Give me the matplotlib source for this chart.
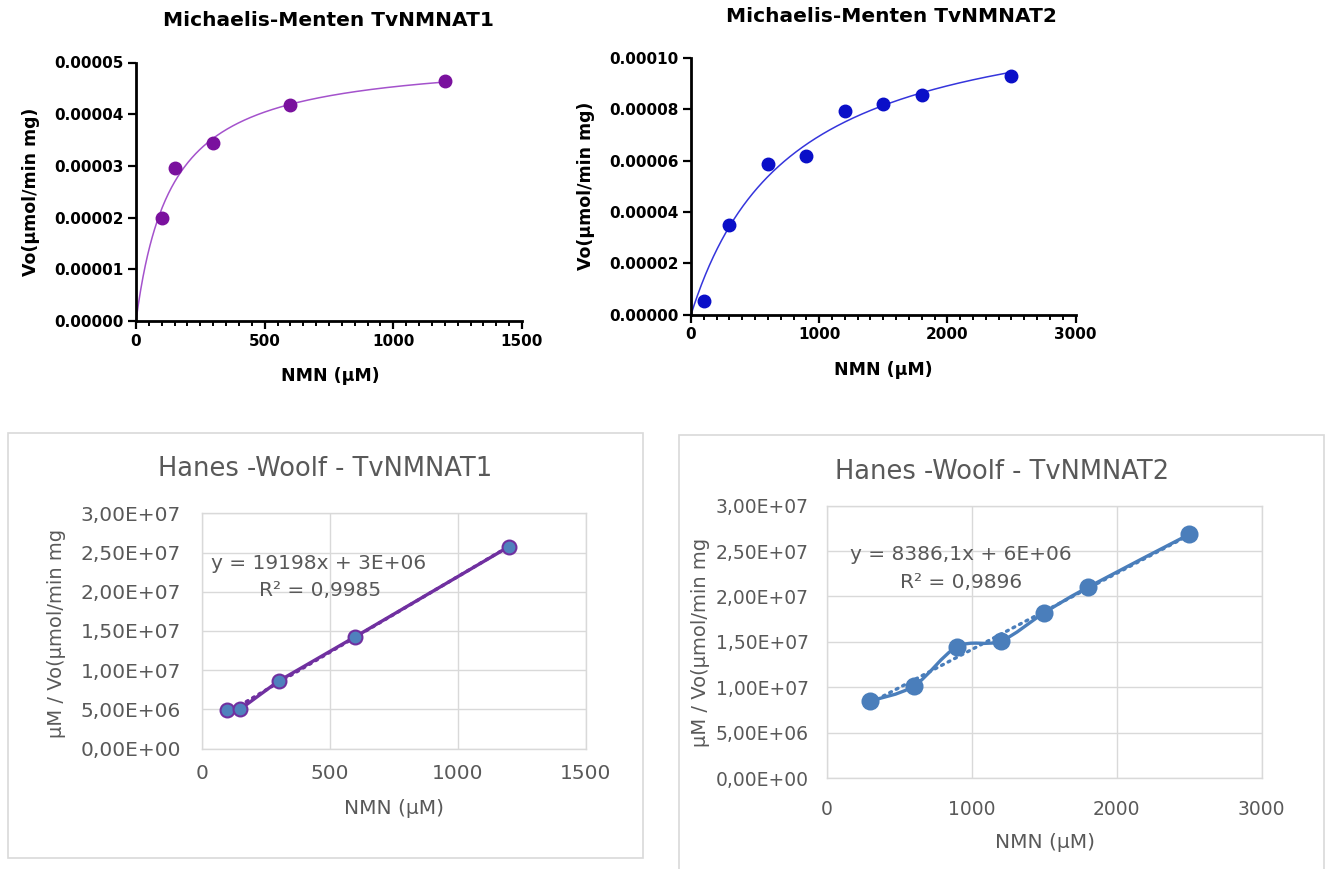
import numpy as np
import matplotlib
matplotlib.use("Agg")
import matplotlib.pyplot as plt
from matplotlib.ticker import MultipleLocator, FuncFormatter, FormatStrFormatter
from matplotlib.patches import Rectangle, PathPatch
from matplotlib.path import Path

# ---------------- data ----------------
mm1_nmn = [100, 150, 300, 600, 1200]
mm1_vo = [1.99e-5, 2.95e-5, 3.44e-5, 4.18e-5, 4.64e-5]

mm2_nmn = [100, 300, 600, 900, 1200, 1500, 1800, 2500]
mm2_vo = [0.55e-5, 3.49e-5, 5.88e-5, 6.18e-5, 7.93e-5, 8.21e-5, 8.55e-5, 9.29e-5]

hw1_nmn = [100, 150, 300, 600, 1200]
hw1_ratio = [4.85e6, 5.0e6, 8.6e6, 1.427e7, 2.576e7]

hw2_nmn = [300, 600, 900, 1200, 1500, 1800, 2500]
hw2_ratio = [8.48e6, 1.013e7, 1.446e7, 1.509e7, 1.82e7, 2.10e7, 2.684e7]

mm_titles = ["Michaelis-Menten TvNMNAT1", "Michaelis-Menten TvNMNAT2"]
hw_titles = ["Hanes -Woolf - TvNMNAT1", "Hanes -Woolf - TvNMNAT2"]
hw_eq = ["y = 19198x + 3E+06", "y = 8386,1x + 6E+06"]
hw_r2 = ["R² = 0,9985", "R² = 0,9896"]

W, H = 1327, 869
fig = plt.figure(figsize=(W / 100, H / 100), dpi=100)
fig.patch.set_facecolor("white")


def fx(x):
    return x / W


def fy(y):
    return 1 - y / H


def add_ax(x0, x1, ytop, ybot):
    return fig.add_axes([fx(x0), fy(ybot), (x1 - x0) / W, (ybot - ytop) / H])


def mm_fit(S, V):
    S = np.asarray(S, float)
    V = np.asarray(V, float)
    slope, icpt = np.polyfit(S, S / V, 1)
    vmax, km = 1 / slope, icpt / slope
    for _ in range(200):
        pred = vmax * S / (km + S)
        r = V - pred
        J = np.column_stack([S / (km + S), -vmax * S / (km + S) ** 2])
        d = np.linalg.lstsq(J, r, rcond=None)[0]
        vmax += d[0]
        km += d[1]
    return vmax, km


# ---------------- Michaelis-Menten panels ----------------
mm_specs = [
    dict(S=mm1_nmn, V=mm1_vo, box=(136, 522, 62.5, 321), xmax=1500, xmaj=500, xmin=50,
         ymax=5e-5, ystep=1e-5, pc="#7a119e", lc="#a452cc",
         title_xy=(328, 21), ylab_xy=(31, 192), xlab_xy=(330, 376)),
    dict(S=mm2_nmn, V=mm2_vo, box=(691, 1075.5, 58, 314.7), xmax=3000, xmaj=1000, xmin=100,
         ymax=1e-4, ystep=2e-5, pc="#0a0fc8", lc="#3535dc",
         title_xy=(891, 16), ylab_xy=(586, 186), xlab_xy=(883, 370)),
]

for spec, title in zip(mm_specs, mm_titles):
    x0, x1, yt, yb = spec["box"]
    ax = add_ax(x0, x1, yt, yb)
    vmax, km = mm_fit(spec["S"], spec["V"])
    s = np.linspace(0, max(spec["S"]), 400)
    ax.plot(s, vmax * s / (km + s), color=spec["lc"], lw=1.1, zorder=2, clip_on=False)
    ax.plot(spec["S"], spec["V"], "o", color=spec["pc"], ms=9, zorder=3, clip_on=False)
    ax.set_xlim(0, spec["xmax"])
    ax.set_ylim(0, spec["ymax"])
    ax.xaxis.set_major_locator(MultipleLocator(spec["xmaj"]))
    ax.xaxis.set_minor_locator(MultipleLocator(spec["xmin"]))
    ax.yaxis.set_major_locator(MultipleLocator(spec["ystep"]))
    ax.yaxis.set_major_formatter(FormatStrFormatter("%.5f"))
    ax.xaxis.set_major_formatter(FormatStrFormatter("%d"))
    for side in ("top", "right"):
        ax.spines[side].set_visible(False)
    for side in ("left", "bottom"):
        ax.spines[side].set_linewidth(2.0)
    ax.tick_params(which="major", direction="out", length=6, width=1.6, pad=3,
                   labelsize=11)
    ax.tick_params(which="minor", direction="out", length=3.5, width=1.4)
    for lab in ax.get_xticklabels() + ax.get_yticklabels():
        lab.set_fontweight("bold")
    fig.text(fx(spec["title_xy"][0]), fy(spec["title_xy"][1]), title, ha="center", va="center",
             fontsize=14.5, fontweight="bold")
    fig.text(fx(spec["ylab_xy"][0]), fy(spec["ylab_xy"][1]), "Vo(µmol/min mg)", rotation=90,
             ha="center", va="center", fontsize=12.5, fontweight="bold")
    fig.text(fx(spec["xlab_xy"][0]), fy(spec["xlab_xy"][1]), "NMN (µM)", ha="center", va="center",
             fontsize=12.5, fontweight="bold")

# ---------------- Hanes-Woolf panels ----------------
gray_txt = "#595959"
grid_c = "#d9d9d9"

fig.add_artist(Rectangle((fx(8), fy(858)), (643 - 8) / W, (858 - 432.5) / H,
                         transform=fig.transFigure, fill=False, ec=grid_c, lw=1.2))
fig.add_artist(Rectangle((fx(679), fy(880)), (1324 - 679) / W, (880 - 435) / H,
                         transform=fig.transFigure, fill=False, ec=grid_c, lw=1.2))


def sci_comma(v, pos):
    return f"{v:.2E}".replace(".", ",")


def smooth_path(xs, ys):
    P = np.column_stack([xs, ys]).astype(float)
    n = len(P)
    verts = [P[0]]
    codes = [Path.MOVETO]
    for i in range(n - 1):
        p_prev = P[i - 1] if i > 0 else P[i]
        p_next2 = P[i + 2] if i + 2 < n else P[i + 1]
        c1 = P[i] + (P[i + 1] - p_prev) / 6
        c2 = P[i + 1] - (p_next2 - P[i]) / 6
        verts += [c1, c2, P[i + 1]]
        codes += [Path.CURVE4] * 3
    return Path(verts, codes)


hw_specs = [
    dict(S=hw1_nmn, R=hw1_ratio, box=(201.7, 586, 513.3, 748.5), xmax=1500, xstep=500,
         lc="#7030a0", mfc="#4f81bd", mec="#7030a0", ms=10, tc="#7030a0", smooth=False,
         tsize=14.5, xpad=11, ypad=15, title_xy=(325, 469), eq_xy=(319, 569), r2_xy=(320, 596.5),
         ylab_xy=(57, 633), xlab_xy=(394, 808)),
    dict(S=hw2_nmn, R=hw2_ratio, box=(826.7, 1261.7, 505.7, 778), xmax=3000, xstep=1000,
         lc="#4a7ebb", mfc="#4a7ebb", mec="#4a7ebb", ms=11.5, tc="#4a7ebb", smooth=True,
         tsize=13.5, xpad=16, ypad=13, title_xy=(1002, 472), eq_xy=(961, 560), r2_xy=(961, 587.5),
         ylab_xy=(700, 642), xlab_xy=(1045, 843)),
]

for spec, title, eq, r2 in zip(hw_specs, hw_titles, hw_eq, hw_r2):
    x0, x1, yt, yb = spec["box"]
    ax = add_ax(x0, x1, yt, yb)
    ax.set_xlim(0, spec["xmax"])
    ax.set_ylim(0, 3e7)
    ax.xaxis.set_major_locator(MultipleLocator(spec["xstep"]))
    ax.yaxis.set_major_locator(MultipleLocator(5e6))
    ax.yaxis.set_major_formatter(FuncFormatter(sci_comma))
    ax.xaxis.set_major_formatter(FormatStrFormatter("%d"))
    ax.grid(True, color=grid_c, lw=1.0)
    ax.set_axisbelow(True)
    for sp in ax.spines.values():
        sp.set_color(grid_c)
        sp.set_linewidth(1.0)
    ax.tick_params(axis="both", length=0, labelsize=spec["tsize"], labelcolor=gray_txt)
    ax.tick_params(axis="x", pad=spec["xpad"])
    ax.tick_params(axis="y", pad=spec["ypad"])

    S = np.asarray(spec["S"], float)
    R = np.asarray(spec["R"], float)
    # linear trendline (dotted)
    m, b = np.polyfit(S, R, 1)
    xt = np.array([S.min(), S.max()])
    ax.plot(xt, m * xt + b, color=spec["tc"], lw=2.4, ls=(0, (0.6, 1.6)),
            dash_capstyle="round", zorder=2)
    # data series line
    if spec["smooth"]:
        ax.add_patch(PathPatch(smooth_path(S, R), fill=False, ec=spec["lc"], lw=2.4,
                               capstyle="round", joinstyle="round", zorder=3))
    else:
        ax.plot(S, R, color=spec["lc"], lw=2.4, zorder=3, solid_capstyle="round")
    ax.plot(S, R, "o", ms=spec["ms"], mfc=spec["mfc"], mec=spec["mec"], mew=1.5,
            zorder=4, clip_on=False)

    fig.text(fx(spec["title_xy"][0]), fy(spec["title_xy"][1]), title, ha="center", va="center",
             fontsize=18.5, color=gray_txt)
    fig.text(fx(spec["eq_xy"][0]), fy(spec["eq_xy"][1]), eq, ha="center", va="baseline",
             fontsize=14.5, color=gray_txt)
    fig.text(fx(spec["r2_xy"][0]), fy(spec["r2_xy"][1]), r2, ha="center", va="baseline",
             fontsize=14.5, color=gray_txt)
    fig.text(fx(spec["ylab_xy"][0]), fy(spec["ylab_xy"][1]), "µM / Vo(µmol/min mg", rotation=90,
             ha="center", va="center", fontsize=14, color=gray_txt)
    fig.text(fx(spec["xlab_xy"][0]), fy(spec["xlab_xy"][1]), "NMN (µM)", ha="center", va="center",
             fontsize=14.5, color=gray_txt)

fig.savefig("out.png", dpi=100, facecolor="white")
